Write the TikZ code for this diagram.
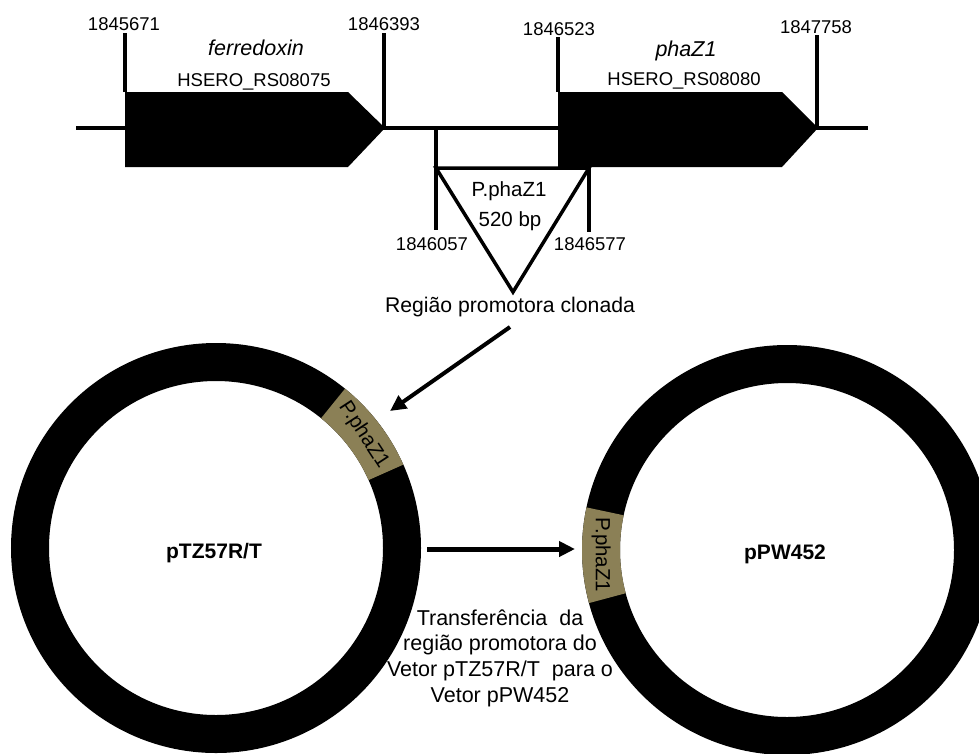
\documentclass[tikz,border=0pt]{standalone}
\usepackage{fontspec}
\setmainfont{Liberation Sans}
\usetikzlibrary{arrows.meta}
\definecolor{promo}{RGB}{139,128,86}

\begin{document}
\begin{tikzpicture}[x=1pt,y=1pt,
  txt/.style={inner sep=0pt, anchor=base},
  num/.style={txt, font=\fontsize{18.5}{21}\selectfont},
  gname/.style={txt, font=\fontsize{21.5}{24}\selectfont\itshape},
  locus/.style={txt, font=\fontsize{18.5}{21}\selectfont},
  mid/.style={txt, font=\fontsize{20.5}{24}\selectfont},
  plasname/.style={txt, font=\fontsize{21}{25}\selectfont\bfseries},
  thin/.style={line width=3.5pt},
  gene/.style={fill=black},
  ring/.style={draw=black, line width=38pt},
  arr/.style={line width=4pt, -{Triangle[length=16pt,width=15pt]}},
  seglbl/.style={inner sep=0pt, font=\fontsize{20.5}{22}\selectfont}]
\useasboundingbox (0,0) rectangle (979,-753);
\clip (0,0) rectangle (979,-753);

% genomic backbone
\draw[thin] (76,-128) -- (868,-128);

% gene arrows
\fill[gene] (125,-92) -- (348,-92) -- (385,-128) -- (348,-167) -- (125,-167) -- cycle;
\fill[gene] (558,-92) -- (782,-92) -- (818,-128) -- (782,-167) -- (558,-167) -- cycle;

% coordinate ticks
\coordinate (t1a) at (125,-33);  \coordinate (t1b) at (125,-92);
\coordinate (t2a) at (384,-33);  \coordinate (t2b) at (384,-128);
\coordinate (t3a) at (558,-37);  \coordinate (t3b) at (558,-92);
\coordinate (t4a) at (817,-35);  \coordinate (t4b) at (817,-128);
\draw[thin] (t1a) -- (t1b);
\draw[thin] (t2a) -- (t2b);
\draw[thin] (t3a) -- (t3b);
\draw[thin] (t4a) -- (t4b);

\node[num] (n1) at (124,-30) {1845671};
\node[num] (n2) at (384,-30) {1846393};
\node[num] (n3) at (559,-35) {1846523};
\node[num] (n4) at (816,-33) {1847758};

\node[gname] (g1) at (256,-55) {ferredoxin};
\node[locus] (l1) at (254,-86) {HSERO\_RS08075};
\node[gname] (g2) at (686,-56) {phaZ1};
\node[locus] (l2) at (684,-85) {HSERO\_RS08080};

% cloned promoter region
\coordinate (pl0) at (436,-128);
\coordinate (pl1) at (436,-230);
\coordinate (ptl) at (436,-168);
\coordinate (ptr) at (589,-168);
\coordinate (pbot) at (513,-292);
\coordinate (pr1) at (589,-232);
\draw[thin] (pl0) -- (pl1);
\draw[thin, line join=miter] (ptl) -- (ptr) -- (pbot) -- cycle;
\draw[thin] (ptr) -- (pr1);

\node[mid] (pz) at (509,-196) {P.phaZ1};
\node[mid] (bp) at (510,-226) {520 bp};
\node[num] (n5) at (432,-250) {1846057};
\node[num] (n6) at (590,-250) {1846577};
\node[mid, font=\fontsize{21.2}{24}\selectfont] (clon) at (510,-312) {Região promotora clonada};

% plasmids
\coordinate (c1) at (216,-548);
\coordinate (c2) at (787,-550);
\draw[ring] (c1) circle[radius=186];
\draw[ring] (c2) circle[radius=186];

% promoter inserts
\fill[promo] (c1) ++(24:205) arc[start angle=24, end angle=51, radius=205]
  -- ++(231:38) arc[start angle=51, end angle=24, radius=167] -- cycle;
\fill[promo] (c2) ++(168:205) arc[start angle=168, end angle=195, radius=205]
  -- ++(15:38) arc[start angle=195, end angle=168, radius=167] -- cycle;
\node[seglbl, rotate=-57] (s1) at ([shift={(37.5:186)}]c1) {P.phaZ1};
\node[seglbl, rotate=-90] (s2) at ([shift={(181.5:186)}]c2) {P.phaZ1};

\node[plasname] (pn1) at (214,-558) {pTZ57R/T};
\node[plasname] (pn2) at (785,-559) {pPW452};

% arrows
\coordinate (a1s) at (510,-327);
\coordinate (a1e) at (390,-411);
\draw[arr] (a1s) -- (a1e);
\coordinate (a2s) at (427,-549);
\coordinate (a2e) at (575,-549);
\draw[arr, line width=5pt] (a2s) -- (a2e);

\node[inner sep=0pt, align=center, font=\fontsize{21.5}{25.7}\selectfont]
  (tr) at (500,-658) {Transferência\ \ da\\região promotora do\\Vetor pTZ57R/T\ \ para o\\Vetor pPW452};
\end{tikzpicture}
\end{document}
